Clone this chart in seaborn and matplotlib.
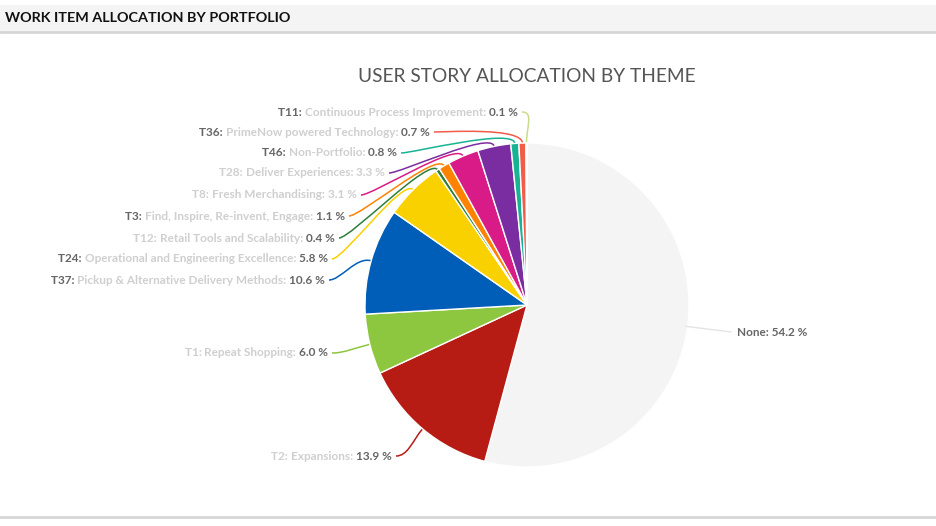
import numpy as np
import matplotlib
matplotlib.use("Agg")
import matplotlib.pyplot as plt
import seaborn as sns
from matplotlib.path import Path
from matplotlib.patches import PathPatch, Rectangle

# data (clockwise from 12 o'clock)
themes = ["None", "T2", "T1", "T37", "T24", "T12", "T3", "T8", "T28", "T46", "T36", "T11"]
theme_names = ["", "Expansions", "Repeat Shopping", "Pickup & Alternative Delivery Methods",
               "Operational and Engineering Excellence", "Retail Tools and Scalability",
               "Find, Inspire, Re-invent, Engage", "Fresh Merchandising", "Deliver Experiences",
               "Non-Portfolio", "PrimeNow powered Technology", "Continuous Process Improvement"]
shares = [54.2, 13.9, 6.0, 10.6, 5.8, 0.4, 1.1, 3.1, 3.3, 0.8, 0.7, 0.1]

colors = ["#f4f4f4", "#b71c14", "#8dc63f", "#005eb8", "#f9d000", "#2f7d3b",
          "#ff8200", "#d81b86", "#7a2da0", "#19b394", "#f25c48", "#c8dc8c"]

# label anchors in pixels (x = right end of text, y from top)
label_pos = {"None": (737, 332), "T2": (392, 456), "T1": (328, 353), "T37": (325, 280),
             "T24": (328, 259), "T12": (335, 238), "T3": (345, 216), "T8": (357, 195),
             "T28": (385, 173), "T46": (397, 153), "T36": (430, 132), "T11": (518, 112)}
# which parts are blurred out in the original (code, value)
dim_code = {"T2", "T1", "T12", "T8", "T28"}
dim_value = {"T8", "T28"}

W, H = 937, 526
sns.set_style("white")
plt.rcParams["font.family"] = ["Lato", "DejaVu Sans"]

fig = plt.figure(figsize=(W / 100, H / 100), dpi=100)
ax = fig.add_axes([0, 0, 1, 1])

cx, cy, r = 527, H - 305, 162
wedges, _ = ax.pie(shares, colors=colors, startangle=90, counterclock=False,
                   center=(cx, cy), radius=r, frame=True,
                   wedgeprops=dict(edgecolor="white", linewidth=1.0))
ax.set_xlim(0, W)
ax.set_ylim(0, H)
ax.set_aspect("equal")
ax.axis("off")

# header band
ax.add_patch(Rectangle((0, H - 32), W, 27, facecolor="#f4f4f4", edgecolor="none", zorder=0))
ax.plot([0, W], [H - 32, H - 32], color="#d6d6d6", lw=2, zorder=1)
ax.plot([0, W], [H - 517, H - 517], color="#d6d6d6", lw=2, zorder=1)
ax.text(5, H - 18, "WORK ITEM ALLOCATION BY PORTFOLIO", fontsize=10.4, fontweight="bold",
        color="#111111", va="center", ha="left")
ax.text(527, H - 76, "USER STORY ALLOCATION BY THEME", fontsize=13.8, color="#555555",
        va="center", ha="center")

renderer = fig.canvas.get_renderer()
dark, light = "#666666", "#cfcfcf"


def chain_right(x, y, parts):
    # draw text parts right to left, ending at x
    for s, c in reversed(parts):
        t = ax.text(x, y, s, fontsize=8.5, fontweight="bold", color=c, ha="right", va="center")
        bb = t.get_window_extent(renderer)
        x = bb.x0


for w, th, nm, v, col in zip(wedges, themes, theme_names, shares, colors):
    px, py = label_pos[th]
    y = H - py
    mid = np.deg2rad((w.theta1 + w.theta2) / 2)
    edge = (cx + r * np.cos(mid), cy + r * np.sin(mid))
    if th == "None":
        ax.text(px, y, f"None: {v} %", fontsize=8.5, fontweight="bold", color=dark,
                ha="left", va="center")
        ax.plot([edge[0] - 2, px - 6], [edge[1], y], color="#e4e4e4", lw=1)
        continue
    chain_right(px, y, [(f"{th}: ", light if th in dim_code else dark),
                        (f"{nm}: ", light),
                        (f"{v} %", light if th in dim_value else dark)])
    outer = (cx + (r + 16) * np.cos(mid), cy + (r + 16) * np.sin(mid))
    verts = [(px + 4, y), (px + 16, y), outer, edge]
    path = Path(verts, [Path.MOVETO, Path.CURVE4, Path.CURVE4, Path.CURVE4])
    ax.add_patch(PathPatch(path, facecolor="none", edgecolor=col, lw=1.1, zorder=0.5))

fig.savefig("out.png", dpi=100)
